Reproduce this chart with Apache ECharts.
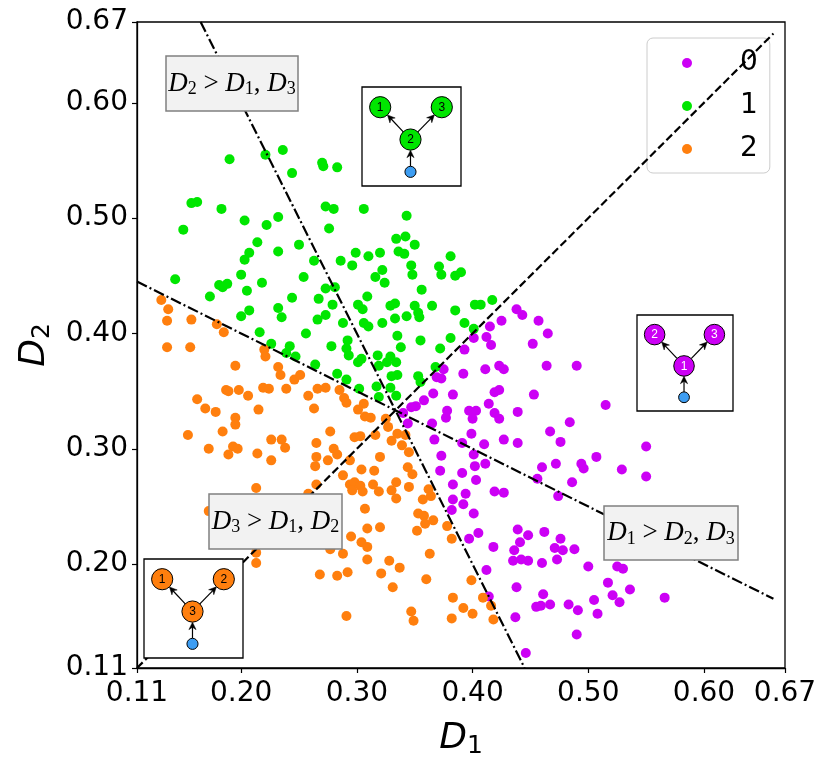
<!DOCTYPE html>
<html>
<head>
<meta charset="utf-8">
<script src="https://cdn.jsdelivr.net/npm/echarts@6/dist/echarts.min.js"></script>
<style>html,body{margin:0;padding:0;background:#fff;}#c{width:831px;height:774px;}</style>
</head>
<body>
<div id="c"></div>
<script>
// ---------------- data ----------------
const classNames = ['0', '1', '2'];
const tickValues = [0.11, 0.20, 0.30, 0.40, 0.50, 0.60, 0.67];

// class 0 (D1 largest)
const class0Points = [
  [0.415,0.406],[0.412,0.397],[0.416,0.390],[0.401,0.396],[0.393,0.386],[0.375,0.369],[0.373,0.361],[0.369,0.362],
  [0.392,0.365],[0.411,0.369],[0.419,0.349],[0.414,0.339],[0.419,0.331],[0.383,0.347],[0.366,0.348],[0.358,0.342],
  [0.351,0.337],[0.347,0.336],[0.340,0.331],[0.344,0.322],[0.378,0.333],[0.377,0.327],[0.397,0.333],[0.403,0.333],
  [0.400,0.326],[0.399,0.313],[0.365,0.322],[0.367,0.308],[0.391,0.305],[0.410,0.304],[0.373,0.294],[0.401,0.295],
  [0.423,0.351],[0.423,0.326],[0.438,0.421],[0.443,0.416],[0.425,0.411],[0.457,0.411],[0.465,0.400],[0.452,0.391],
  [0.423,0.372],[0.427,0.369],[0.464,0.372],[0.490,0.372],[0.453,0.347],[0.515,0.338],[0.439,0.332],[0.484,0.323],
  [0.467,0.315],[0.476,0.306],[0.427,0.308],[0.439,0.305],[0.550,0.302],[0.507,0.293],
  [0.411,0.287],[0.460,0.284],[0.472,0.287],[0.494,0.287],[0.496,0.283],[0.529,0.282],[0.550,0.276],[0.456,0.274],
  [0.486,0.271],[0.419,0.263],[0.427,0.262],[0.474,0.259],[0.439,0.230],[0.448,0.225],[0.441,0.219],[0.436,0.212],
  [0.462,0.228],[0.476,0.222],[0.471,0.214],[0.478,0.212],[0.488,0.213],[0.418,0.215],[0.435,0.203],[0.442,0.204],
  [0.448,0.203],[0.460,0.201],[0.473,0.204],[0.500,0.198],[0.525,0.198],[0.530,0.196],[0.412,0.195],[0.517,0.184],
  [0.536,0.178],[0.438,0.180],[0.461,0.174],[0.521,0.173],[0.527,0.167],[0.566,0.171],[0.455,0.163],[0.459,0.164],
  [0.467,0.165],[0.483,0.165],[0.491,0.160],[0.505,0.169],[0.508,0.157],[0.437,0.154],[0.490,0.139],[0.446,0.123],
  [0.414,0.172],
  [0.372,0.281],[0.391,0.279],[0.402,0.285],[0.403,0.273],[0.383,0.269],[0.394,0.261],[0.383,0.256],[0.392,0.252],
  [0.382,0.247],[0.401,0.244],[0.405,0.227],[0.397,0.222]
];

// class 1 (D2 largest)
const class1Points = [
  [0.190,0.551],[0.221,0.555],[0.236,0.559],[0.244,0.539],[0.157,0.513],[0.162,0.514],[0.183,0.508],[0.203,0.498],
  [0.232,0.501],[0.222,0.494],[0.150,0.490],[0.214,0.479],[0.250,0.477],[0.207,0.470],[0.232,0.471],[0.203,0.464],
  [0.263,0.463],[0.143,0.447],[0.200,0.451],[0.254,0.449],[0.218,0.444],[0.181,0.442],[0.184,0.440],[0.188,0.443],
  [0.205,0.437],[0.173,0.432],[0.244,0.431],[0.267,0.430],[0.232,0.422],[0.207,0.420],
  [0.270,0.548],[0.271,0.545],[0.283,0.544],[0.273,0.510],[0.280,0.508],[0.306,0.508],[0.343,0.502],[0.276,0.491],
  [0.334,0.482],[0.342,0.484],[0.350,0.477],[0.286,0.463],[0.299,0.470],[0.310,0.467],[0.320,0.470],[0.296,0.459],
  [0.336,0.471],[0.341,0.469],[0.347,0.459],[0.348,0.451],[0.322,0.455],[0.316,0.449],[0.324,0.444],[0.381,0.467],
  [0.371,0.458],[0.373,0.451],[0.385,0.450],[0.390,0.453],[0.273,0.439],[0.281,0.440],[0.356,0.438],[0.309,0.432],
  [0.279,0.425],[0.301,0.425],[0.329,0.424],[0.333,0.426],[0.350,0.424],[0.365,0.424],[0.385,0.420],[0.402,0.425],
  [0.407,0.425],[0.417,0.429],
  [0.200,0.415],[0.235,0.414],[0.266,0.412],[0.216,0.401],[0.256,0.400],[0.226,0.391],[0.242,0.389],[0.239,0.383],
  [0.247,0.380],[0.264,0.373],
  [0.305,0.421],[0.343,0.415],[0.353,0.418],[0.354,0.414],[0.333,0.413],[0.322,0.409],[0.306,0.409],[0.310,0.406],
  [0.288,0.409],[0.273,0.416],[0.393,0.409],[0.401,0.404],[0.335,0.398],[0.355,0.394],[0.381,0.396],[0.292,0.394],
  [0.291,0.387],[0.293,0.381],[0.278,0.389],[0.338,0.388],[0.372,0.387],[0.318,0.381],[0.301,0.375],[0.304,0.378],
  [0.319,0.372],[0.329,0.380],[0.334,0.375],[0.326,0.375],[0.283,0.365],[0.291,0.360],[0.302,0.352],[0.317,0.354],
  [0.319,0.345],[0.330,0.363],[0.335,0.364],[0.329,0.353],[0.334,0.346],[0.353,0.363],[0.355,0.358],[0.368,0.371]
];

// class 2 (D3 largest)
const class2Points = [
  [0.131,0.429],[0.137,0.421],
  [0.136,0.411],[0.157,0.412],[0.179,0.408],[0.185,0.401],[0.136,0.388],[0.156,0.388],[0.220,0.386],[0.221,0.380],
  [0.195,0.372],[0.232,0.371],[0.234,0.364],[0.246,0.360],[0.251,0.364],[0.187,0.351],[0.189,0.350],[0.198,0.351],
  [0.206,0.346],[0.219,0.353],[0.224,0.352],[0.239,0.352],[0.266,0.352],[0.258,0.346],[0.162,0.343],[0.169,0.335],
  [0.178,0.332],[0.215,0.334],[0.263,0.335],[0.195,0.327],[0.195,0.321],[0.184,0.315],[0.154,0.312],[0.226,0.308],
  [0.235,0.308],[0.238,0.301],[0.265,0.305],[0.172,0.300],[0.193,0.302],[0.197,0.300],[0.189,0.295],[0.214,0.296],
  [0.226,0.290],[0.265,0.293],[0.264,0.285],
  [0.273,0.353],[0.285,0.351],[0.289,0.344],[0.291,0.340],[0.306,0.339],[0.301,0.334],[0.307,0.328],[0.312,0.327],
  [0.325,0.326],[0.327,0.319],[0.277,0.315],[0.298,0.310],[0.303,0.311],[0.316,0.312],[0.330,0.307],[0.335,0.313],
  [0.342,0.312],[0.339,0.303],[0.345,0.297],[0.280,0.300],[0.283,0.295],[0.275,0.290],[0.294,0.290],[0.320,0.293],
  [0.288,0.277],[0.294,0.269],[0.298,0.271],[0.303,0.268],[0.296,0.264],[0.305,0.263],[0.304,0.282],[0.315,0.281],
  [0.314,0.269],[0.319,0.263],[0.334,0.271],[0.330,0.264],[0.334,0.257],[0.344,0.284],[0.348,0.278],[0.345,0.267],
  [0.265,0.269],[0.362,0.265],[0.357,0.256],[0.364,0.259],[0.307,0.248],[0.353,0.244],[0.358,0.242],[0.359,0.235],
  [0.352,0.229],[0.366,0.238],[0.378,0.233],[0.382,0.222],[0.309,0.231],[0.320,0.232],[0.295,0.224],[0.304,0.219],
  [0.309,0.215],[0.277,0.213],[0.288,0.209],[0.309,0.204],[0.328,0.203],[0.363,0.209],[0.337,0.197],[0.268,0.191],
  [0.283,0.190],[0.292,0.193],[0.321,0.192],[0.360,0.187],[0.331,0.180],[0.399,0.186],[0.383,0.171],[0.392,0.162],
  [0.400,0.157],[0.382,0.153],[0.291,0.155],[0.347,0.159],[0.349,0.151],
  [0.213,0.266],[0.172,0.246],[0.258,0.261],[0.213,0.210],[0.213,0.201],
  [0.409,0.171],[0.416,0.164],[0.418,0.152]
];

// decision boundaries (end points)
const boundaryD1eqD2 = [[0.11, 0.11], [0.66, 0.66]];
const boundaryD2eqD3 = [[0.11, 0.445], [0.66, 0.17]];
const boundaryD1eqD3 = [[0.165, 0.67], [0.445, 0.11]];

// region label subscripts per class: D_a > D_b, D_c
const regionSubs = [
  ['1', '2', '3'],
  ['2', '1', '3'],
  ['3', '1', '2']
];
// inset node labels per class: [top-left, top-right, centre]
const insetNodeLabels = [
  ['2', '3', '1'],
  ['1', '3', '2'],
  ['1', '2', '3']
];

// ---------------- style ----------------
const colors = ['#cc00f5', '#00e600', '#ff7f0e'];
const blueNode = '#3d9df2';

const chart = echarts.init(document.getElementById('c'));

function mathLabel(s) {
  return '{d|D}{s|' + s[0] + '}{o| > }{d|D}{s|' + s[1] + '}{o|, }{d|D}{s|' + s[2] + '}';
}
const boxRich = {
  d: {fontFamily: 'Liberation Serif', fontStyle: 'italic', fontSize: 27, lineHeight: 30, color: '#000'},
  s: {fontFamily: 'Liberation Serif', fontSize: 18, lineHeight: 14, verticalAlign: 'bottom', color: '#000'},
  o: {fontFamily: 'Liberation Serif', fontSize: 27, lineHeight: 30, color: '#000'}
};

const graphics = [];
function textBox(x, y, w, h, label) {
  graphics.push({type: 'rect', z: 100, shape: {x: x, y: y, width: w, height: h},
    style: {fill: '#f2f2f2', stroke: '#808080', lineWidth: 1.5}});
  graphics.push({type: 'text', z: 101, x: x + w / 2, y: y + h / 2,
    style: {text: mathLabel(label), rich: boxRich, align: 'center', verticalAlign: 'middle',
      textAlign: 'center', textVerticalAlign: 'middle'}});
}
function arrow(p, q, rp, rq) {
  const dx = q[0] - p[0], dy = q[1] - p[1], L = Math.hypot(dx, dy);
  const ux = dx / L, uy = dy / L, nx = -uy, ny = ux;
  const sx = p[0] + ux * rp, sy = p[1] + uy * rp;
  const ex = q[0] - ux * rq, ey = q[1] - uy * rq;
  const hl = 7.5, hw = 3.6;
  const bx = ex - ux * hl, by = ey - uy * hl;
  graphics.push({type: 'line', z: 102, shape: {x1: sx, y1: sy, x2: bx + ux * 3, y2: by + uy * 3},
    style: {stroke: '#000', lineWidth: 1.2}});
  graphics.push({type: 'polygon', z: 103, shape: {points: [[ex, ey], [bx + nx * hw, by + ny * hw],
    [ex - ux * hl * 0.68, ey - uy * hl * 0.68], [bx - nx * hw, by - ny * hw]]},
    style: {fill: '#000', stroke: '#000', lineWidth: 0.5}});
}
function inset(x0, y0, s, color, labels, labelColor) {
  graphics.push({type: 'rect', z: 100, shape: {x: x0, y: y0, width: s, height: s},
    style: {fill: '#fff', stroke: '#000', lineWidth: 1.3}});
  const k = s / 98;
  const tl = [x0 + 18 * k, y0 + 20 * k], tr = [x0 + 79 * k, y0 + 20 * k];
  const c = [x0 + 48 * k, y0 + 52 * k], b = [x0 + 48 * k, y0 + 84 * k];
  const R = 10.5 * k, rb = 5.5 * k;
  arrow(c, tl, R, R);
  arrow(c, tr, R, R);
  arrow(b, c, rb, R);
  [[tl, labels[0]], [tr, labels[1]], [c, labels[2]]].forEach(function (n) {
    graphics.push({type: 'circle', z: 104, shape: {cx: n[0][0], cy: n[0][1], r: R},
      style: {fill: color, stroke: '#000', lineWidth: 1}});
    graphics.push({type: 'text', z: 105, x: n[0][0], y: n[0][1] + 0.5,
      style: {text: n[1], fill: labelColor, fontSize: 12, fontFamily: 'Liberation Sans',
        align: 'center', verticalAlign: 'middle', textAlign: 'center', textVerticalAlign: 'middle'}});
  });
  graphics.push({type: 'circle', z: 104, shape: {cx: b[0], cy: b[1], r: rb},
    style: {fill: blueNode, stroke: '#000', lineWidth: 1}});
}

textBox(166, 56, 132, 55, regionSubs[1]);
textBox(209, 494, 133, 55, regionSubs[2]);
textBox(604, 506, 134, 54, regionSubs[0]);
inset(362, 87, 99, colors[1], insetNodeLabels[1], '#000');
inset(637, 315, 96, colors[0], insetNodeLabels[0], '#fff');
inset(144, 559, 99, colors[2], insetNodeLabels[2], '#000');

const axisNameRich = {
  d: {fontFamily: 'DejaVu Sans', fontStyle: 'italic', fontSize: 36, lineHeight: 40, color: '#000'},
  s: {fontFamily: 'DejaVu Sans', fontSize: 25, lineHeight: 24, verticalAlign: 'bottom', color: '#000'}
};
const tickFmt = function (v) { return v.toFixed(2); };

function boundarySeries(data, dash) {
  return {type: 'line', data: data, symbol: 'none', silent: true, z: 5, clip: true,
    lineStyle: {color: '#000', width: 2.2, type: dash}};
}

const option = {
  animation: false,
  backgroundColor: '#fff',
  grid: {left: 137, right: 46, top: 22, bottom: 106, show: true, borderColor: '#000', borderWidth: 1.3,
    backgroundColor: 'transparent'},
  xAxis: {
    type: 'value', min: 0.11, max: 0.67,
    name: '{d|D}{s|1}', nameLocation: 'middle', nameGap: 51,
    nameTextStyle: {rich: axisNameRich},
    axisLine: {show: true, onZero: false, lineStyle: {color: '#000', width: 1.3}},
    axisTick: {show: true, length: 5, lineStyle: {color: '#000', width: 1.2}, customValues: tickValues},
    axisLabel: {customValues: tickValues, formatter: tickFmt, fontSize: 28, color: '#000',
      fontFamily: 'DejaVu Sans', margin: 12},
    splitLine: {show: false}
  },
  yAxis: {
    type: 'value', min: 0.11, max: 0.67,
    name: '{d|D}{s|2}', nameLocation: 'middle', nameGap: 80, nameRotate: 90,
    nameTextStyle: {rich: axisNameRich},
    axisLine: {show: true, onZero: false, lineStyle: {color: '#000', width: 1.3}},
    axisTick: {show: true, length: 5, lineStyle: {color: '#000', width: 1.2}, customValues: tickValues},
    axisLabel: {customValues: tickValues, formatter: tickFmt, fontSize: 28, color: '#000',
      fontFamily: 'DejaVu Sans', margin: 9},
    splitLine: {show: false}
  },
  legend: {
    data: classNames, orient: 'vertical', left: 647, top: 38,
    icon: 'circle', itemWidth: 10, itemHeight: 10, itemGap: 15,
    padding: [11, 12, 10, 35],
    backgroundColor: 'rgba(255,255,255,0.8)', borderColor: '#cccccc', borderWidth: 1, borderRadius: 6,
    textStyle: {fontSize: 28, fontFamily: 'DejaVu Sans', color: '#000', padding: [0, 0, 0, 43]}
  },
  graphic: {elements: graphics},
  series: [
    {name: classNames[0], type: 'scatter', data: class0Points, symbolSize: 10, z: 2,
      itemStyle: {color: colors[0], opacity: 1}},
    {name: classNames[1], type: 'scatter', data: class1Points, symbolSize: 10, z: 2,
      itemStyle: {color: colors[1], opacity: 1}},
    {name: classNames[2], type: 'scatter', data: class2Points, symbolSize: 10, z: 2,
      itemStyle: {color: colors[2], opacity: 1}},
    boundarySeries(boundaryD1eqD2, [8, 3.5]),
    boundarySeries(boundaryD2eqD3, [11, 3, 2, 3]),
    boundarySeries(boundaryD1eqD3, [11, 3, 2, 3])
  ]
};
chart.setOption(option);
</script>
</body>
</html>
